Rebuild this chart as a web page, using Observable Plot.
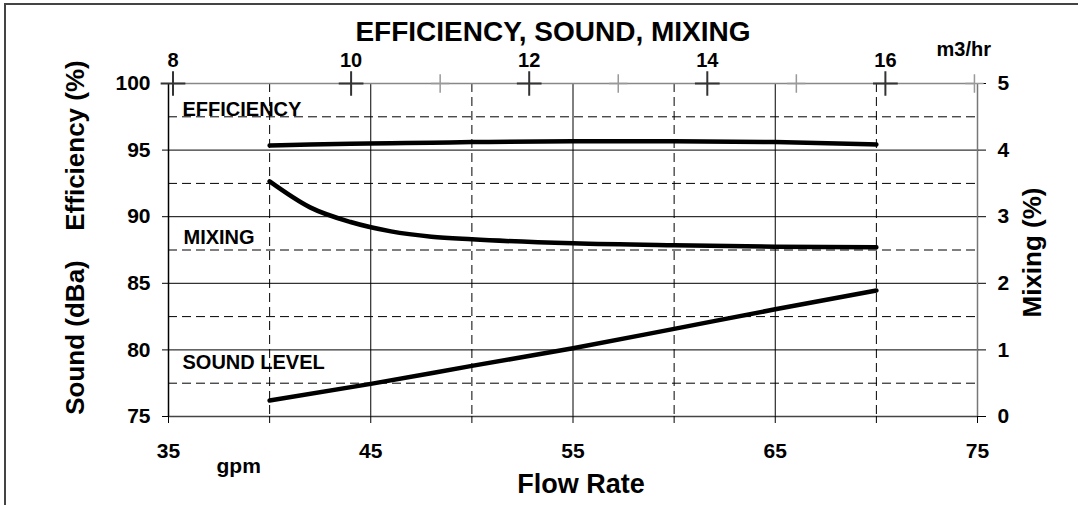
<!DOCTYPE html>
<html><head><meta charset="utf-8">
<script src="https://cdn.jsdelivr.net/npm/d3@7"></script>
<script src="https://cdn.jsdelivr.net/npm/@observablehq/plot@0.6"></script>
<style>
html,body{margin:0;padding:0;background:#fff;}
#wrap{position:relative;width:1078px;height:505px;overflow:hidden;background:#fff;}
#border{position:absolute;left:4px;top:3px;width:1200px;height:600px;border-left:2px solid #444;border-top:2px solid #444;pointer-events:none;}
#wrap svg{position:absolute;left:0;top:0;}
</style></head><body>
<div id="wrap"><div id="border"></div></div>
<script>
// ---- data ----
const M3_TO_GPM = 4.40287;
const flow = [40, 42, 44, 46, 48, 50, 55, 60, 65, 70];
const efficiency = [95.35, 95.42, 95.47, 95.52, 95.56, 95.6, 95.66, 95.66, 95.6, 95.42];
const mixing = [3.53, 3.14, 2.92, 2.78, 2.70, 2.66, 2.60, 2.57, 2.55, 2.54];
const soundFlow = [40, 45, 50, 55, 60, 65, 70];
const sound = [76.2, 77.45, 78.8, 80.13, 81.58, 83.05, 84.46];

const leftTicks = [75, 80, 85, 90, 95, 100];
const bottomTicks = [35, 40, 45, 50, 55, 60, 65, 70, 75];
const bottomLabels = [35, 45, 55, 65, 75];
const topMajor = [8, 10, 12, 14, 16];
const topMinor = [11, 13, 15, 17];
const gridSolidY = [80, 85, 90, 95];
const gridDashY = [77.5, 82.5, 87.5, 92.5, 97.5];
const gridSolidX = [45, 55, 65];
const gridDashX = [40, 50, 60, 70];

const title = "EFFICIENCY, SOUND, MIXING";
const topUnit = "m3/hr";
const bottomUnit = "gpm";
const xTitle = "Flow Rate";
const effTitle = "Efficiency (%)";
const soundTitle = "Sound (dBa)";
const mixTitle = "Mixing (%)";
const seriesLabels = ["EFFICIENCY", "MIXING", "SOUND LEVEL"];

const effData = flow.map((f, i) => ({flow: f, v: efficiency[i]}));
const mixData = flow.map((f, i) => ({flow: f, v: 75 + 5 * mixing[i]}));
const soundData = soundFlow.map((f, i) => ({flow: f, v: sound[i]}));

const dash = "9,5";
const chart = Plot.plot({
  width: 1078, height: 505,
  marginLeft: 168, marginRight: 101, marginTop: 83, marginBottom: 89,
  x: {domain: [35, 75]},
  y: {domain: [75, 100]},
  style: {fontFamily: "'Liberation Sans', Arial, sans-serif", fontWeight: "bold", background: "transparent", color: "#000"},
  marks: [
    Plot.ruleY(gridSolidY, {stroke: "#000", strokeWidth: 1}),
    Plot.ruleY(gridDashY, {stroke: "#000", strokeWidth: 1, strokeDasharray: dash}),
    Plot.ruleX(gridSolidX, {stroke: "#000", strokeWidth: 1}),
    Plot.ruleX(gridDashX, {stroke: "#000", strokeWidth: 1, strokeDasharray: dash}),
    Plot.ruleY([75], {stroke: "#444", strokeWidth: 1.5}),
    Plot.ruleY([100], {x1: 8 * M3_TO_GPM, x2: 17 * M3_TO_GPM, stroke: "#888", strokeWidth: 1.5}),
    Plot.ruleX([35], {stroke: "#000", strokeWidth: 1.5}),
    Plot.ruleX([75], {stroke: "#777", strokeWidth: 1.5}),
    Plot.axisY({ticks: leftTicks, tickSize: 6, tickPadding: 12, fontSize: 21, fontWeight: "bold", label: null}),
    Plot.axisY({anchor: "right", ticks: leftTicks, tickFormat: d => (d - 75) / 5, tickSize: 8, tickPadding: 12, fontSize: 21, fontWeight: "bold", label: null}),
    Plot.axisX({ticks: bottomTicks, tickSize: 7, tickPadding: 20, tickFormat: d => bottomLabels.includes(d) ? d : "", fontSize: 21, fontWeight: "bold", label: null}),
    Plot.axisX({anchor: "top", ticks: topMajor.map(m => m * M3_TO_GPM), tickFormat: d => Math.round(d / M3_TO_GPM), tickSize: 0, tickPadding: 17, fontSize: 20, fontWeight: "bold", label: null}),
    Plot.dot(topMinor, {x: d => d * M3_TO_GPM, y: () => 100, symbol: "plus", r: 6, stroke: "#999", strokeWidth: 1.5}),
    Plot.dot(topMajor, {x: d => d * M3_TO_GPM, y: () => 100, symbol: "plus", r: 8, stroke: "#333", strokeWidth: 2}),
    Plot.line(effData, {x: "flow", y: "v", curve: "monotone-x", stroke: "#000", strokeWidth: 4.5}),
    Plot.line(mixData, {x: "flow", y: "v", curve: "monotone-x", stroke: "#000", strokeWidth: 4.5}),
    Plot.line(soundData, {x: "flow", y: "v", curve: "monotone-x", stroke: "#000", strokeWidth: 4.5}),
    Plot.text([title], {text: d => d, frameAnchor: "top", dx: -20, dy: -43, lineAnchor: "bottom", fontSize: 28}),
    Plot.text([topUnit], {text: d => d, frameAnchor: "top-right", textAnchor: "start", dx: -41, dy: -28, lineAnchor: "bottom", fontSize: 20}),
    Plot.text([bottomUnit], {text: d => d, frameAnchor: "bottom-left", textAnchor: "start", dx: 48, dy: 56, lineAnchor: "bottom", fontSize: 21}),
    Plot.text([xTitle], {text: d => d, frameAnchor: "bottom", dx: 8, dy: 76, lineAnchor: "bottom", fontSize: 27}),
    Plot.text([effTitle], {text: d => d, frameAnchor: "left", textAnchor: "middle", rotate: -90, dx: -85, dy: -104.5, lineAnchor: "bottom", fontSize: 26}),
    Plot.text([soundTitle], {text: d => d, frameAnchor: "left", textAnchor: "middle", rotate: -90, dx: -85, dy: 87.5, lineAnchor: "bottom", fontSize: 26}),
    Plot.text([mixTitle], {text: d => d, frameAnchor: "right", textAnchor: "middle", rotate: -90, dx: 63, dy: 2.5, lineAnchor: "bottom", fontSize: 26}),
    Plot.text([seriesLabels[0]], {text: d => d, frameAnchor: "top-left", textAnchor: "start", dx: 14, dy: 32, lineAnchor: "bottom", fontSize: 20}),
    Plot.text([seriesLabels[1]], {text: d => d, frameAnchor: "top-left", textAnchor: "start", dx: 15, dy: 160, lineAnchor: "bottom", fontSize: 20}),
    Plot.text([seriesLabels[2]], {text: d => d, frameAnchor: "top-left", textAnchor: "start", dx: 14, dy: 285, lineAnchor: "bottom", fontSize: 20})
  ]
});
document.getElementById("wrap").appendChild(chart);
</script>
</body></html>
